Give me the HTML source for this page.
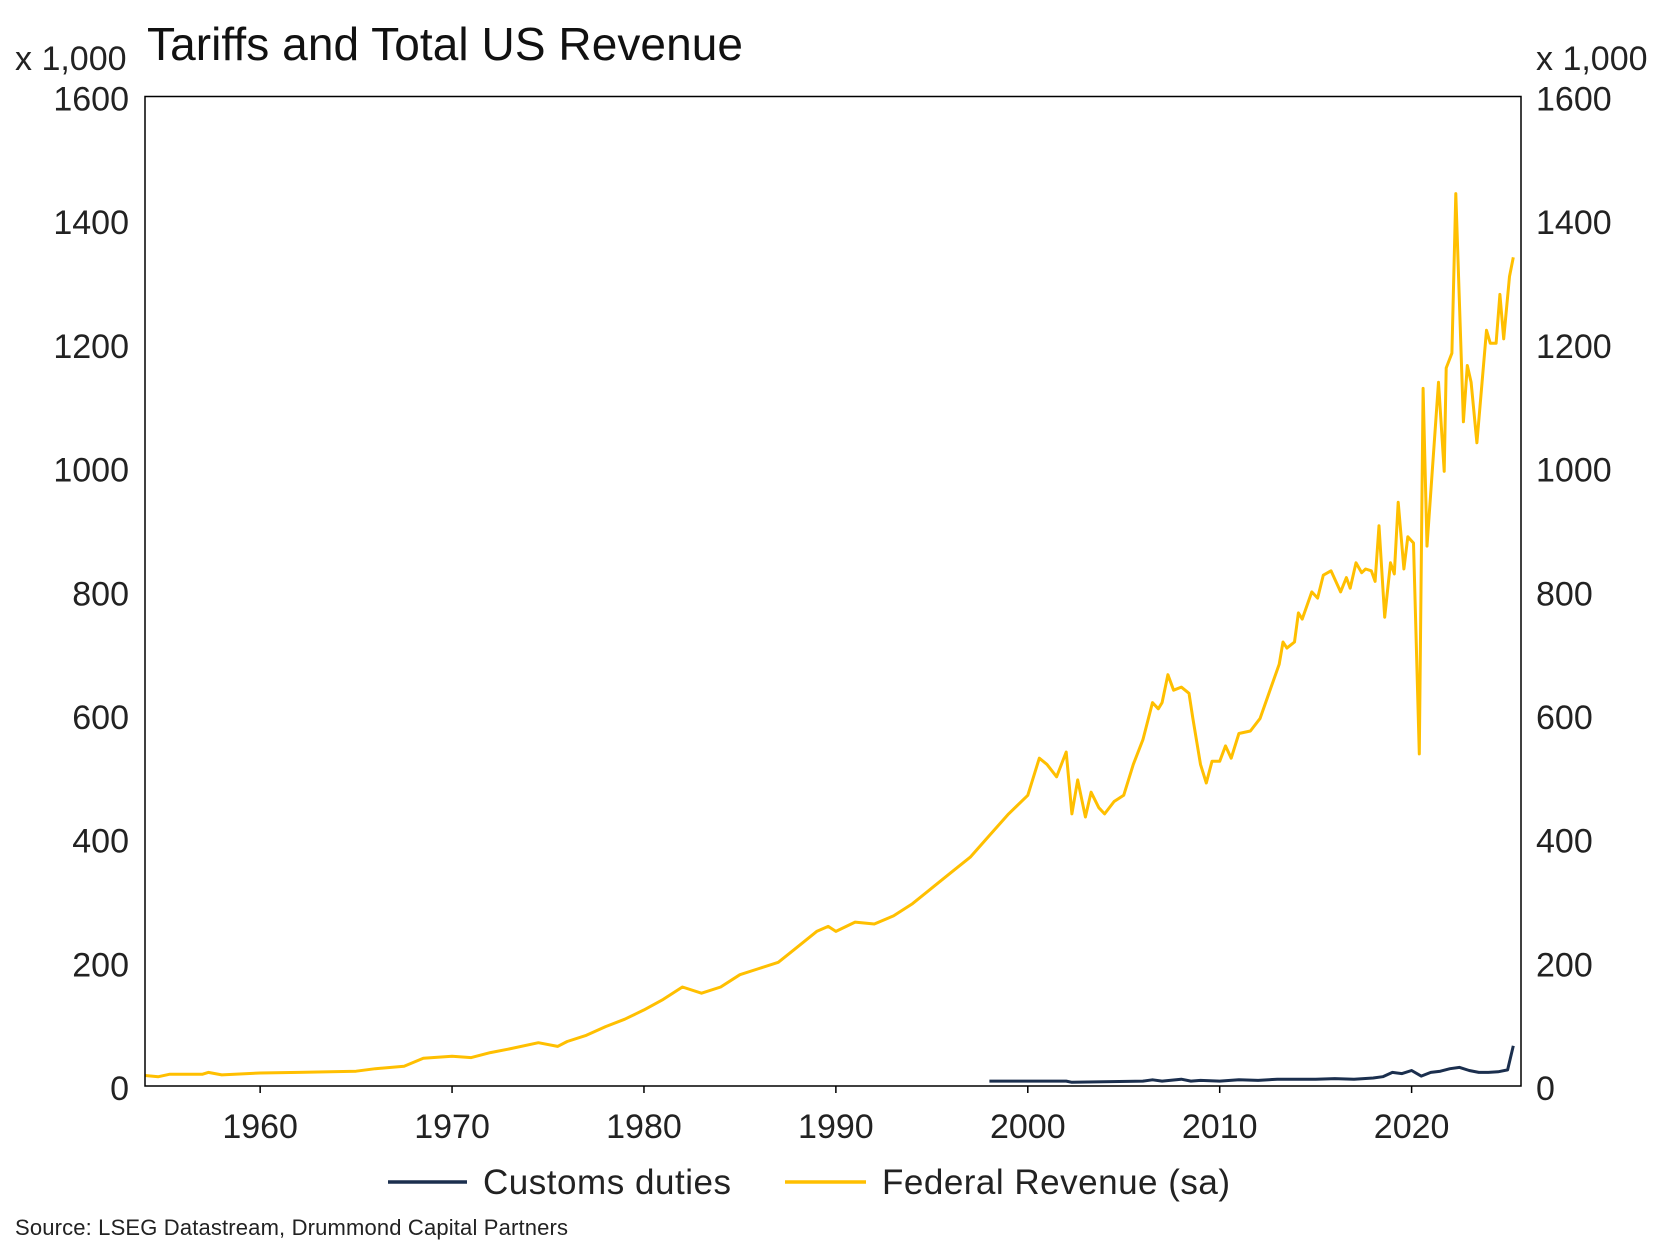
<!DOCTYPE html>
<html><head><meta charset="utf-8"><style>
html,body{margin:0;padding:0;background:#fff;}
svg{display:block;font-family:"Liberation Sans",Arial,sans-serif;}
</style></head><body>
<svg id="chart" width="1661" height="1256" viewBox="0 0 1661 1256">
<text x="147" y="60" font-size="46" fill="#111" textLength="596">Tariffs and Total US Revenue</text>
<text x="15" y="70" font-size="34" fill="#222">x 1,000</text>
<text x="1536" y="70" font-size="34" fill="#222">x 1,000</text>
<g id="ticks"></g>
<g id="series"></g>
<rect x="145" y="96.5" width="1376" height="989.5" fill="none" stroke="#000" stroke-width="1.5"/>
<g>
<line x1="388" y1="1182" x2="467" y2="1182" stroke="#1b2f4e" stroke-width="3.5"/>
<text x="483" y="1194" font-size="35" fill="#222" textLength="248">Customs duties</text>
<line x1="785" y1="1182" x2="866" y2="1182" stroke="#ffbf00" stroke-width="3.5"/>
<text x="882" y="1194" font-size="35" fill="#222" textLength="348">Federal Revenue (sa)</text>
</g>
<text x="15" y="1235" font-size="22" fill="#222" textLength="553">Source: LSEG Datastream, Drummond Capital Partners</text>
</svg>
<script>
const yTicks=[0,200,400,600,800,1000,1200,1400,1600];
const xTicks=[1960,1970,1980,1990,2000,2010,2020];
const revYears=[1954,1954.7,1955.3,1957,1957.3,1958,1960,1962,1965,1966,1967.5,1968.5,1970,1971,1972,1973,1974.5,1975.5,1976,1977,1978,1979,1980,1981,1982,1983,1984,1985,1986,1987,1988,1989,1989.6,1990,1991,1992,1993,1994,1995,1996,1997,1998,1999,2000,2000.6,2001,2001.5,2002,2002.3,2002.6,2003,2003.3,2003.7,2004,2004.5,2005,2005.5,2006,2006.5,2006.8,2007,2007.3,2007.6,2008,2008.4,2008.6,2009,2009.3,2009.6,2010,2010.3,2010.6,2011,2011.6,2012.1,2013.1,2013.3,2013.5,2013.9,2014.1,2014.3,2014.8,2015.1,2015.4,2015.8,2016.3,2016.6,2016.8,2017.1,2017.4,2017.6,2017.9,2018.1,2018.3,2018.6,2018.9,2019.1,2019.3,2019.6,2019.8,2020.1,2020.4,2020.6,2020.8,2021.4,2021.7,2021.8,2022.1,2022.3,2022.7,2022.9,2023.1,2023.4,2023.9,2024.1,2024.4,2024.6,2024.8,2025.1,2025.3];
const revValues=[17,15,19,19,22,18,21,22,24,28,32,45,48,46,54,60,70,64,72,82,96,108,123,140,160,150,160,180,190,200,225,250,258,250,265,262,275,295,320,345,370,405,440,470,530,520,500,540,440,495,435,475,450,440,460,470,520,560,620,610,620,665,640,645,635,595,520,490,525,525,550,530,570,574,594,682,718,708,718,765,755,799,789,826,833,799,822,805,846,830,836,833,816,906,758,846,828,944,836,888,878,537,1128,873,1138,994,1161,1185,1443,1074,1165,1138,1040,1222,1201,1201,1280,1208,1309,1340];
const cusYears=[1998,2002,2002.3,2006,2006.5,2007,2008,2008.5,2009,2010,2011,2012,2013,2015,2016,2017,2018,2018.5,2019,2019.5,2020,2020.5,2021,2021.5,2022,2022.5,2023,2023.5,2024,2024.5,2025,2025.3];
const cusValues=[8,8,6,8,10,8,11,8,9,8,10,9,11,11,12,11,13,15,22,20,25,16,22,24,28,30,25,22,22,23,26,65];
const L=145,R=1521,T=96.5,B=1086,X0=1954,X1=2025.7;
const xs=v=>L+(v-X0)/(X1-X0)*(R-L);
const ys=v=>B-v/1600*(B-T);
const NS="http://www.w3.org/2000/svg";
const tg=document.getElementById('ticks'),sg=document.getElementById('series');
function mk(tag,attrs,parent,txt){const e=document.createElementNS(NS,tag);for(const k in attrs)e.setAttribute(k,attrs[k]);if(txt!==undefined)e.textContent=txt;parent.appendChild(e);return e;}
yTicks.forEach(v=>{
  const a=mk('text',{x:129,y:ys(v)+14,'font-size':34,'text-anchor':'end',fill:'#222'},tg,String(v));
  
  
  const b=mk('text',{x:1536,y:ys(v)+14,'font-size':34,fill:'#222'},tg,String(v));
  
  
});
xTicks.forEach(v=>{
  const t=mk('line',{x1:xs(v),x2:xs(v),y1:B,y2:B+7,stroke:'#000','stroke-width':1.5},tg);
  
  
  const l=mk('text',{x:xs(v),y:1138,'font-size':34,'text-anchor':'middle',fill:'#222'},tg,String(v));
  
  
});
function pts(xa,ya){return xa.map((x,i)=>xs(x).toFixed(1)+','+ys(ya[i]).toFixed(1)).join(' ');}
const rev=mk('polyline',{points:pts(revYears,revValues),fill:'none',stroke:'#ffbf00','stroke-width':3,'stroke-linejoin':'round'},sg);


const cus=mk('polyline',{points:pts(cusYears,cusValues),fill:'none',stroke:'#1b2f4e','stroke-width':3,'stroke-linejoin':'round'},sg);


</script>
</body></html>
